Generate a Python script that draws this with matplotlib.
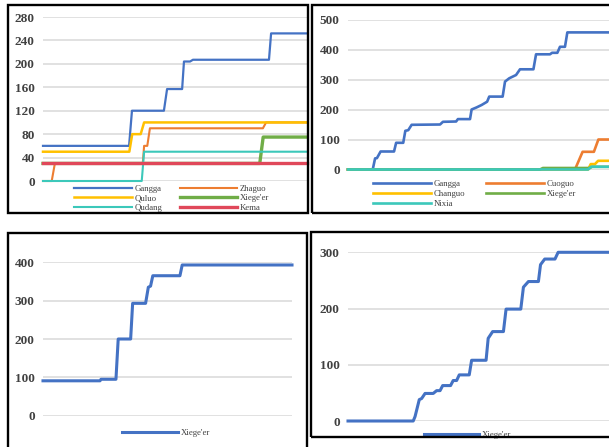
import matplotlib.pyplot as plt
from matplotlib.patches import Rectangle

W, H = 609, 447

BLUE = "#4472C4"
ORANGE = "#ED7D31"
YELLOW = "#FFC000"
GREEN = "#70AD47"
TEAL = "#3CC8BA"
RED = "#E0485A"

# ---- panel 1 (cumulative counts, six series) ----
p1_gangga_x = [0, 32.6, 33.7, 45.8, 47.0, 52.7, 53.4, 55.7, 56.8, 85.6, 86.4, 100]
p1_gangga_y = [60, 60, 120, 120, 157, 157, 204, 204, 207, 207, 252, 252]
p1_zhaguo_x = [0, 3.3, 4.5, 37.8, 38.3, 39.5, 40.5, 83.3, 84.5, 100]
p1_zhaguo_y = [0, 0, 30, 30, 60, 60, 90, 90, 100, 100]
p1_quluo_x = [0, 32.7, 33.8, 37.0, 38.3, 100]
p1_quluo_y = [50, 50, 80, 80, 100, 100]
p1_xiegeer_x = [0, 82.1, 83.4, 100]
p1_xiegeer_y = [30, 30, 75, 75]
p1_qudang_x = [0, 37.4, 38.3, 100]
p1_qudang_y = [0, 0, 50, 50]
p1_kema_x = [0, 100]
p1_kema_y = [30, 30]
p1_ticks = [0, 40, 80, 120, 160, 200, 240, 280]

# ---- panel 2 (five series) ----
p2_gangga_x = [0, 9.4, 10.3, 11.0, 12.4, 17.5, 18.3, 21.0, 21.8, 22.9, 24.2, 35.0,
               36.1, 41.1, 41.8, 46.4, 47.0, 48.9, 50.8, 52.9, 53.7, 58.8, 59.7,
               61.3, 63.9, 65.4, 70.5, 71.5, 76.8, 77.6, 79.6, 80.6, 82.5, 83.4, 100]
p2_gangga_y = [0, 0, 37, 38, 60, 60, 89, 89, 129, 131, 149, 150,
               159, 160, 168, 168, 200, 207, 215, 226, 243, 243, 293,
               304, 315, 334, 334, 384, 384, 389, 389, 409, 409, 457, 457]
p2_cuoguo_x = [0, 86.3, 89.2, 93.5, 95.2, 100]
p2_cuoguo_y = [0, 0, 59, 59, 100, 100]
p2_changguo_x = [0, 91.3, 92.3, 93.9, 95.1, 100]
p2_changguo_y = [0, 0, 18, 18, 29, 29]
p2_xiegeer_x = [0, 73.0, 74.1, 92.0, 92.8, 100]
p2_xiegeer_y = [0, 0, 5, 5, 9, 9]
p2_nixia_x = [0, 91.3, 92.4, 100]
p2_nixia_y = [0, 0, 9, 9]
p2_ticks = [0, 100, 200, 300, 400, 500]

# ---- panel 3 (Xiege'er) ----
p3_x = [0, 22.9, 23.3, 29.3, 30.2, 35.2, 36.0, 41.2, 42.3, 43.2, 44.1, 55.0, 55.9, 100]
p3_y = [91, 91, 95, 95, 200, 200, 293, 293, 335, 338, 365, 365, 393, 393]
p3_ticks = [0, 100, 200, 300, 400]

# ---- panel 4 (Xiege'er) ----
p4_x = [0, 24.8, 25.5, 27.1, 28.0, 29.3, 32.4, 33.7, 35.0, 36.0, 39.0, 40.0, 41.3,
        42.3, 46.1, 47.0, 52.5, 53.3, 55.0, 59.1, 60.1, 65.7, 66.7, 68.6, 72.4,
        73.2, 74.8, 78.7, 79.9, 100]
p4_y = [0, 0, 8, 38, 40, 49, 49, 54, 54, 63, 63, 72, 72,
        82, 82, 108, 108, 147, 159, 159, 199, 199, 238, 248, 248,
        278, 288, 288, 300, 300]
p4_ticks = [0, 100, 200, 300]


def frac(l, t, r, b):
    return [l / W, 1 - b / H, (r - l) / W, (b - t) / H]


fig = plt.figure(figsize=(W / 100, H / 100), dpi=100)
fig.patch.set_facecolor("white")

# black panel frames
for l, t, r, b in [(8, 5, 308, 213), (312, 5, 622, 213),
                   (8, 233, 307, 455), (311, 232, 622, 437)]:
    fig.add_artist(Rectangle((l / W, 1 - b / H), (r - l) / W, (b - t) / H,
                             transform=fig.transFigure, fill=False,
                             edgecolor="black", linewidth=1.7))


def setup(ax, ticks):
    ax.set_xlim(0, 100)
    ax.set_ylim(ticks[0], ticks[-1])
    ax.set_yticks(ticks)
    ax.set_xticks([])
    for s in ax.spines.values():
        s.set_visible(False)
    ax.grid(axis="y", color="#D9D9D9", linewidth=1.1)
    ax.set_axisbelow(True)
    ax.tick_params(axis="y", length=0, pad=6, labelsize=9.5, labelcolor="#404040")
    for lab in ax.get_yticklabels():
        lab.set_fontfamily("Liberation Serif")
        lab.set_fontweight("bold")
    ax.patch.set_alpha(0)


leg_font = {"family": "Liberation Serif", "size": 6.3}

# panel 1
ax1 = fig.add_axes(frac(43, 17, 307, 181))
setup(ax1, p1_ticks)
l_g, = ax1.plot(p1_gangga_x, p1_gangga_y, color=BLUE, lw=1.6, label="Gangga", clip_on=False)
l_z, = ax1.plot(p1_zhaguo_x, p1_zhaguo_y, color=ORANGE, lw=1.5, label="Zhaguo", clip_on=False)
l_q, = ax1.plot(p1_quluo_x, p1_quluo_y, color=YELLOW, lw=1.8, label="Quluo", clip_on=False)
l_x, = ax1.plot(p1_xiegeer_x, p1_xiegeer_y, color=GREEN, lw=2.4, label="Xiege'er", clip_on=False)
l_d, = ax1.plot(p1_qudang_x, p1_qudang_y, color=TEAL, lw=1.5, label="Qudang", clip_on=False)
l_k, = ax1.plot(p1_kema_x, p1_kema_y, color=RED, lw=2.4, label="Kema", clip_on=False)
ax1.legend(handles=[l_g, l_q, l_d, l_z, l_x, l_k], ncol=2, loc="upper left",
           bbox_to_anchor=(74 / W, 1 - 184.5 / H), bbox_transform=fig.transFigure,
           frameon=False, prop=leg_font, handlelength=6.6, handletextpad=0.3,
           columnspacing=2.0, labelspacing=0.16, borderpad=0, borderaxespad=0,
           labelcolor="#404040")

# panel 2
ax2 = fig.add_axes(frac(348, 19.5, 611, 169.5))
setup(ax2, p2_ticks)
m_g, = ax2.plot(p2_gangga_x, p2_gangga_y, color=BLUE, lw=1.9, label="Gangga", clip_on=False)
m_c, = ax2.plot(p2_cuoguo_x, p2_cuoguo_y, color=ORANGE, lw=1.9, label="Cuoguo", clip_on=False)
m_h, = ax2.plot(p2_changguo_x, p2_changguo_y, color=YELLOW, lw=1.9, label="Changuo", clip_on=False)
m_x, = ax2.plot(p2_xiegeer_x, p2_xiegeer_y, color=GREEN, lw=1.9, label="Xiege'er", clip_on=False)
m_n, = ax2.plot(p2_nixia_x, p2_nixia_y, color=TEAL, lw=1.9, label="Nixia", clip_on=False)
ax2.legend(handles=[m_g, m_h, m_n, m_c, m_x], ncol=2, loc="upper left",
           bbox_to_anchor=(373 / W, 1 - 179.5 / H), bbox_transform=fig.transFigure,
           frameon=False, prop=leg_font, handlelength=6.6, handletextpad=0.3,
           columnspacing=2.4, labelspacing=0.22, borderpad=0, borderaxespad=0,
           labelcolor="#404040")

# panel 3
ax3 = fig.add_axes(frac(43, 262.3, 292, 415.7))
setup(ax3, p3_ticks)
n_x, = ax3.plot(p3_x, p3_y, color=BLUE, lw=2.2, label="Xiege'er", clip_on=False)
ax3.legend(handles=[n_x], loc="upper left",
           bbox_to_anchor=(121.7 / W, 1 - 429 / H), bbox_transform=fig.transFigure,
           frameon=False, prop=leg_font, handlelength=6.4, handletextpad=0.3,
           borderpad=0, borderaxespad=0, labelcolor="#404040")

# panel 4
ax4 = fig.add_axes(frac(348, 252.3, 611, 421))
setup(ax4, p4_ticks)
o_x, = ax4.plot(p4_x, p4_y, color=BLUE, lw=2.2, label="Xiege'er", clip_on=False)
ax4.legend(handles=[o_x], loc="upper left",
           bbox_to_anchor=(424.3 / W, 1 - 430.5 / H), bbox_transform=fig.transFigure,
           frameon=False, prop=leg_font, handlelength=6.3, handletextpad=0.3,
           borderpad=0, borderaxespad=0, labelcolor="#404040")

fig.savefig("out.png", dpi=100)
